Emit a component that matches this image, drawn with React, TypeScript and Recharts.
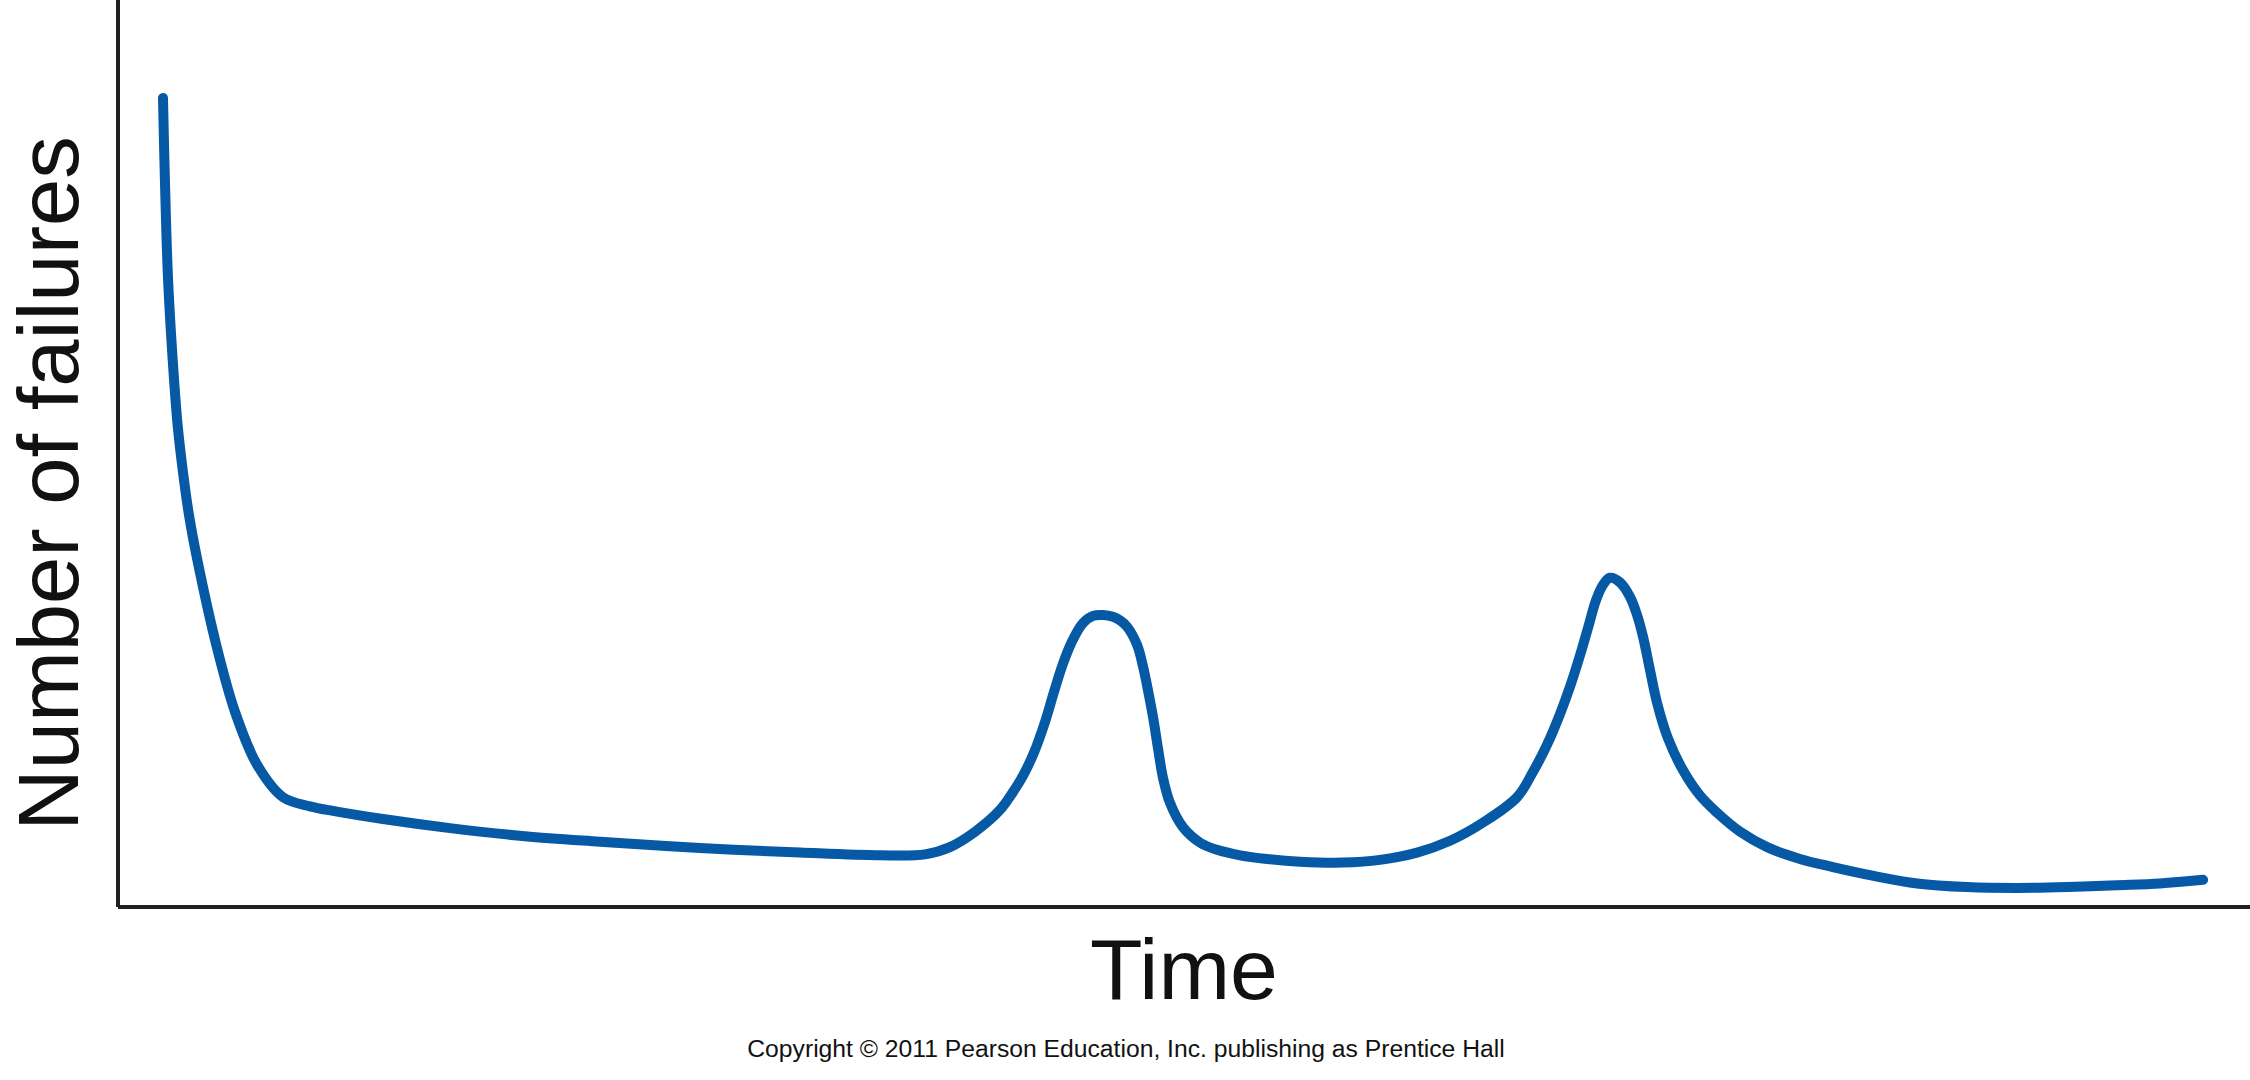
import React from 'react';
import { LineChart, Line, XAxis, YAxis, Label } from 'recharts';

// time (0-100 along the axis) and number of failures (0-100 up the axis)
const times = [
  2.11, 2.2, 2.35, 2.63, 2.81, 3.05, 3.33, 3.71, 4.64, 5.49, 6.52, 7.74, 9.01, 10.08,
  12.43, 15.57, 19.09, 22.61, 27.3, 31.99, 35.74, 37.85, 39.02, 40.2, 41.37, 41.93, 42.5,
  43.01, 43.48, 43.9, 44.32, 44.75, 45.26, 45.73, 46.2, 46.67, 47.0, 47.33, 47.8, 48.08,
  48.31, 48.55, 48.78, 49.01, 49.34, 49.95, 50.75, 51.55, 52.63, 53.89, 55.44, 57.46, 59.19,
  60.93, 62.48, 64.02, 65.62, 66.37, 67.03, 67.64, 68.15, 68.62, 69.0, 69.32, 69.65, 69.98,
  70.45, 70.92, 71.25, 71.53, 71.86, 72.19, 72.7, 73.4, 74.2, 75.0, 76.08, 77.35, 78.89,
  80.44, 82.41, 84.38, 86.73, 89.07, 91.42, 93.76, 95.78, 97.8,
];
const failures = [
  89.2, 80.2, 69.1, 58.1, 52.8, 47.9, 43.2, 38.4, 28.6, 21.5, 15.7, 12.1, 11.1, 10.6,
  9.7, 8.7, 7.8, 7.2, 6.5, 6.0, 5.7, 5.8, 6.6, 8.3, 10.7, 12.5, 14.7,
  17.3, 20.4, 23.7, 26.8, 29.3, 31.3, 32.1, 32.2, 32.0, 31.6, 30.9, 28.9, 26.5,
  23.9, 20.9, 17.5, 14.3, 11.5, 8.8, 7.1, 6.3, 5.7, 5.3, 5.0, 4.9, 5.2,
  6.0, 7.3, 9.3, 12.1, 14.9, 17.9, 21.3, 24.6, 28.1, 31.2, 33.8, 35.5, 36.3,
  35.8, 34.2, 32.2, 29.8, 26.1, 22.5, 18.6, 15.1, 12.3, 10.4, 8.3, 6.6, 5.3,
  4.4, 3.4, 2.6, 2.2, 2.1, 2.2, 2.4, 2.6, 3.0,
];

const yLabel = 'Number of failures';
const xLabel = 'Time';
const copyright = 'Copyright © 2011 Pearson Education, Inc. publishing as Prentice Hall';

const data = times.map((t, i) => ({ time: t, failures: failures[i] }));

const font = '"Liberation Sans", Arial, Helvetica, sans-serif';

// centripetal catmull-rom, so the steep parts stay smooth
const smoothCurve = (context: any) => {
  let pts: [number, number][] = [];
  const alpha = 0.5;
  return {
    areaStart() {},
    areaEnd() {},
    lineStart() {
      pts = [];
    },
    point(x: number, y: number) {
      pts.push([+x, +y]);
    },
    lineEnd() {
      if (!pts.length) return;
      context.moveTo(pts[0][0], pts[0][1]);
      for (let i = 0; i < pts.length - 1; i++) {
        const p0 = pts[i - 1] || pts[i];
        const p1 = pts[i];
        const p2 = pts[i + 1];
        const p3 = pts[i + 2] || pts[i + 1];
        const l01 = Math.pow(Math.hypot(p1[0] - p0[0], p1[1] - p0[1]), alpha);
        const l12 = Math.pow(Math.hypot(p2[0] - p1[0], p2[1] - p1[1]), alpha);
        const l23 = Math.pow(Math.hypot(p3[0] - p2[0], p3[1] - p2[1]), alpha);
        let c1x = p1[0], c1y = p1[1], c2x = p2[0], c2y = p2[1];
        if (l01 > 1e-6) {
          const a = 2 * l01 * l01 + 3 * l01 * l12 + l12 * l12;
          const n = 3 * l01 * (l01 + l12);
          c1x = (p1[0] * a - p0[0] * l12 * l12 + p2[0] * l01 * l01) / n;
          c1y = (p1[1] * a - p0[1] * l12 * l12 + p2[1] * l01 * l01) / n;
        }
        if (l23 > 1e-6) {
          const b = 2 * l23 * l23 + 3 * l23 * l12 + l12 * l12;
          const m = 3 * l23 * (l23 + l12);
          c2x = (p2[0] * b + p1[0] * l23 * l23 - p3[0] * l12 * l12) / m;
          c2y = (p2[1] * b + p1[1] * l23 * l23 - p3[1] * l12 * l12) / m;
        }
        context.bezierCurveTo(c1x, c1y, c2x, c2y, p2[0], p2[1]);
      }
    },
  };
};

const App: React.FC = () => {
  return (
    <div style={{ position: 'fixed', left: 0, top: 0, width: 2250, height: 1080, background: '#fff' }}>
      <LineChart width={2250} height={1080} data={data} margin={{ top: 0, right: 0, left: 0, bottom: 0 }}>
        <XAxis
          dataKey="time"
          type="number"
          domain={[0, 100]}
          tick={false}
          tickLine={false}
          height={173}
          axisLine={{ stroke: '#231f20', strokeWidth: 4 }}
        >
          <Label
            content={({ viewBox }: any) => (
              <g>
                <text
                  x={viewBox.x + viewBox.width / 2}
                  y={viewBox.y + 92}
                  textAnchor="middle"
                  fontFamily={font}
                  fontSize={86}
                  fill="#111"
                >
                  {xLabel}
                </text>
                <text
                  x={viewBox.x + viewBox.width / 2 - 58}
                  y={viewBox.y + 150}
                  textAnchor="middle"
                  fontFamily={font}
                  fontSize={24.7}
                  fill="#111"
                >
                  {copyright}
                </text>
              </g>
            )}
          />
        </XAxis>
        <YAxis
          type="number"
          domain={[0, 100]}
          tick={false}
          tickLine={false}
          width={118}
          axisLine={{ stroke: '#231f20', strokeWidth: 4 }}
        >
          <Label
            content={({ viewBox }: any) => {
              const cx = viewBox.x + 78;
              const cy = viewBox.y + viewBox.height / 2 + 30;
              return (
                <text
                  x={cx}
                  y={cy}
                  textAnchor="middle"
                  transform={`rotate(-90, ${cx}, ${cy})`}
                  fontFamily={font}
                  fontSize={85}
                  fill="#111"
                >
                  {yLabel}
                </text>
              );
            }}
          />
        </YAxis>
        <Line
          type={smoothCurve as any}
          dataKey="failures"
          stroke="#0659a4"
          strokeWidth={10}
          strokeLinecap="round"
          dot={false}
          activeDot={false}
          isAnimationActive={false}
        />
      </LineChart>
    </div>
  );
};

export default App;
